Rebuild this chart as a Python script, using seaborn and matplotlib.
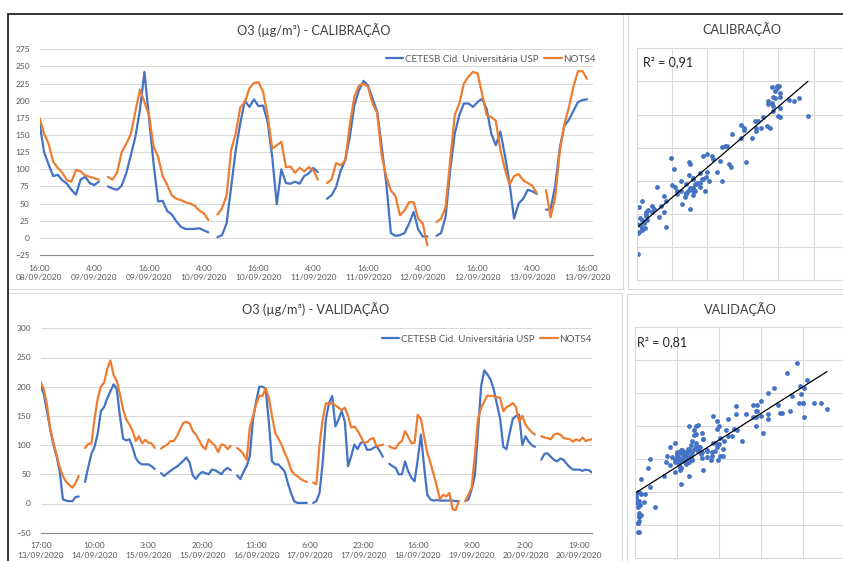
import numpy as np
import pandas as pd
import matplotlib
matplotlib.use("Agg")
import matplotlib.pyplot as plt
import seaborn as sns
from matplotlib.lines import Line2D
from matplotlib.patches import Rectangle

nan = np.nan

# O3 (ug/m3), hourly, calibration period: 08/09/2020 16:00 -> 13/09/2020 16:00
cal_cetesb = [168, 125, 107, 90, 92, 84, 79, 70, 63, 85, 89, 80, 77, 82, nan,
              75, 72, 70, 76, 94, 120, 147, 186, 242, 175, 108, 53, 54, 39, 34, 24, 16, 13, 13, 13, 14, 11, 8, nan,
              1, 4, 21, 74, 128, 167, 200, 191, 202, 192, 193, 169, 118, 49, 100, 80, 79, 82, 79, 90, 94, 102, 96, nan,
              57, 62, 74, 98, 113, 147, 193, 215, 229, 222, 203, 184, 133, 79, 7, 3, 4, 7, 21, 38, 12, 2, 2, nan,
              3, 7, 31, 99, 152, 179, 196, 196, 191, 198, 203, 188, 152, 135, 155, 120, 80, 28, 50, 57, 70, 68, 64, nan,
              41, 42, 75, 130, 163, 172, 185, 198, 201, 202]
cal_nots4 = [175, 152, 137, 111, 102, 95, 84, 82, 99, 97, 91, 89, 87, 85, nan,
             89, 85, 95, 125, 137, 151, 184, 216, 198, 179, 133, 118, 90, 77, 62, 57, 55, 52, 50, 47, 40, 36, 26, nan,
             34, 43, 62, 128, 152, 190, 198, 218, 226, 227, 213, 179, 130, 135, 140, 103, 104, 95, 102, 97, 103, 99, 85, nan,
             80, 85, 109, 106, 113, 164, 206, 222, 225, 220, 196, 182, 120, 89, 69, 61, 33, 40, 52, 52, 28, 21, -11, nan,
             23, 28, 45, 113, 179, 196, 225, 235, 242, 240, 210, 179, 176, 171, 128, 100, 78, 90, 93, 84, 80, 76, 65, nan,
             70, 30, 58, 125, 165, 190, 220, 243, 243, 232]
cal_labels = ["16:00\n08/09/2020", "4:00\n09/09/2020", "16:00\n09/09/2020", "4:00\n10/09/2020",
              "16:00\n10/09/2020", "4:00\n11/09/2020", "16:00\n11/09/2020", "4:00\n12/09/2020",
              "16:00\n12/09/2020", "4:00\n13/09/2020", "16:00\n13/09/2020"]

# validation period: 13/09/2020 17:00 -> 20/09/2020
val_cetesb = [201, 187, 158, 127, 101, 81, 55, 7, 5, 4, 4, 11, 12, nan,
              37, 62, 85, 97, 120, 158, 165, 180, 192, 204, 196, 150, 111, 108, 110, 96, 78, 70, 67, 67, 67, 64, 59, nan,
              52, 47, 52, 56, 60, 63, 68, 73, 79, 70, 48, 42, 50, 54, 52, 50, 58, 57, 54, 50, 57, 61, 57, nan,
              48, 42, 54, 64, 81, 144, 175, 200, 200, 197, 140, 72, 67, 67, 61, 55, 35, 18, 4, 1, 1, 1, 1, nan,
              1, 4, 18, 70, 144, 172, 184, 132, 144, 158, 140, 64, 81, 101, 93, 104, 105, 92, 92, 95, 98, 90, 80, nan,
              68, 64, 61, 50, 50, 72, 55, 44, 38, 75, 118, 64, 15, 7, 5, 6, 5, 5, 5, 5, 5, 4, 4, nan,
              4, 7, 24, 47, 121, 201, 228, 221, 212, 195, 170, 145, 97, 93, 120, 145, 150, 152, 100, 115, 106, 100, 97, nan,
              75, 85, 86, 80, 75, 72, 77, 75, 68, 62, 58, 58, 58, 56, 58, 57, 53]
val_nots4 = [208, 195, 168, 128, 105, 84, 62, 47, 37, 32, 27, 35, 47, nan,
             95, 102, 103, 145, 180, 200, 207, 230, 245, 220, 210, 187, 161, 144, 135, 124, 107, 115, 103, 109, 104, 103, 95, nan,
             94, 98, 101, 107, 107, 115, 127, 138, 140, 137, 124, 118, 108, 98, 93, 110, 104, 99, 88, 101, 100, 93, 99, nan,
             95, 91, 84, 75, 130, 150, 170, 185, 184, 198, 181, 150, 121, 111, 101, 87, 75, 58, 50, 47, 42, 39, 37, nan,
             36, 33, 100, 144, 172, 170, 172, 168, 164, 160, 164, 150, 130, 132, 125, 115, 104, 105, 110, 112, 98, 99, 101, nan,
             98, 95, 94, 103, 107, 124, 114, 103, 104, 152, 145, 115, 87, 70, 50, 30, 7, 15, 12, 18, -10, -11, 4, nan,
             4, 15, 27, 81, 144, 164, 175, 185, 184, 184, 182, 181, 158, 165, 168, 172, 165, 140, 150, 135, 128, 122, 118, nan,
             115, 113, 112, 110, 118, 120, 118, 112, 111, 110, 106, 110, 107, 113, 107, 109, 110]
val_labels = ["17:00\n13/09/2020", "10:00\n14/09/2020", "3:00\n15/09/2020", "20:00\n15/09/2020",
              "13:00\n16/09/2020", "6:00\n17/09/2020", "23:00\n17/09/2020", "16:00\n18/09/2020",
              "9:00\n19/09/2020", "2:00\n20/09/2020", "19:00\n20/09/2020"]

NOMES = ["CETESB Cid. Universitária USP", "NOTS4"]
AZUL, LARANJA = "#4472C4", "#ED7D31"
CINZA_TXT = "#595959"

sns.set_style("white")
plt.rcParams["font.family"] = ["Lato", "DejaVu Sans"]

W, H = 843, 561
fig = plt.figure(figsize=(W / 100, H / 100), dpi=100)


def caixa(x0, y0, x1, y1):
    return [x0 / W, 1 - y1 / H, (x1 - x0) / W, (y1 - y0) / H]


def serie_temporal(rect, cetesb, nots4, xmax, ylim, ystep, major, labels, minor, major_len, leg_xy):
    ax = fig.add_axes(rect)
    df = pd.DataFrame({"hora": np.arange(len(cetesb)), NOMES[0]: cetesb, NOMES[1]: nots4})
    longo = df.melt(id_vars="hora", var_name="serie", value_name="o3")
    # a new segment starts after every missing hour, so gaps stay open
    longo["trecho"] = longo.groupby("serie")["o3"].transform(lambda s: s.isna().cumsum())
    longo = longo.dropna(subset=["o3"])
    sns.lineplot(data=longo, x="hora", y="o3", hue="serie", units="trecho", estimator=None,
                 palette={NOMES[0]: AZUL, NOMES[1]: LARANJA}, linewidth=1.6, legend=False, ax=ax)
    ax.set_xlim(0, xmax)
    ax.set_ylim(*ylim)
    ax.set_yticks(np.arange(ylim[0], ylim[1] + 1, ystep))
    ax.yaxis.grid(True, color="#d9d9d9", lw=0.75)
    ax.set_axisbelow(True)
    ax.xaxis.remove_overlapping_locs = False
    ax.set_xticks(major)
    ax.set_xticklabels(labels, linespacing=1.35)
    ax.set_xticks(minor, minor=True)
    ax.tick_params(axis="x", which="minor", direction="inout", length=3.2, width=0.8, color="#8c8c8c")
    ax.tick_params(axis="x", which="major", direction="inout", length=major_len, width=0.8,
                   color="#8c8c8c", labelsize=6, labelcolor=CINZA_TXT, pad=7 - major_len / 2)
    ax.tick_params(axis="y", length=0, labelsize=6, labelcolor=CINZA_TXT, pad=7)
    for s in ["top", "right", "left"]:
        ax.spines[s].set_visible(False)
    ax.spines["bottom"].set_color("#8c8c8c")
    ax.spines["bottom"].set_linewidth(0.8)
    ax.set_xlabel("")
    ax.set_ylabel("")
    handles = [Line2D([0], [0], color=AZUL, lw=1.6), Line2D([0], [0], color=LARANJA, lw=1.6)]
    leg = ax.legend(handles, NOMES, ncol=2, loc="center right",
                    bbox_to_anchor=(leg_xy[0] / W, 1 - leg_xy[1] / H), bbox_transform=fig.transFigure,
                    frameon=False, fontsize=7.1, handlelength=1.8, handletextpad=0.15,
                    columnspacing=0.6, borderpad=0, borderaxespad=0)
    for t in leg.get_texts():
        t.set_color(CINZA_TXT)
    return ax


def dispersao(rect, cetesb, nots4, xmax):
    ax = fig.add_axes(rect)
    pares = pd.DataFrame({"cetesb": cetesb, "nots4": nots4}).dropna()
    sns.scatterplot(data=pares, x="cetesb", y="nots4", color=AZUL, s=12, linewidth=0, ax=ax)
    sns.regplot(data=pares, x="cetesb", y="nots4", scatter=False, ci=None, color="black",
                line_kws={"lw": 0.9}, ax=ax)
    ax.set_xlim(0, xmax)
    ax.set_ylim(-50, 300)
    ax.set_xticks(np.arange(0, xmax + 1, 50))
    ax.set_yticks(np.arange(-50, 301, 50))
    ax.tick_params(length=0, labelbottom=False, labelleft=False)
    ax.grid(True, color="#d9d9d9", lw=0.75)
    ax.set_axisbelow(True)
    ax.set_xlabel("")
    ax.set_ylabel("")
    for sp in ax.spines.values():
        sp.set_color("#d9d9d9")
        sp.set_linewidth(0.75)
    return ax


# time series panels
serie_temporal(caixa(39.5, 49.3, 593, 255), cal_cetesb, cal_nots4, 121.3, (-25, 275), 25,
               np.arange(0, 121, 12), cal_labels, np.arange(6, 120, 12), 3.2, (596, 59.3))
serie_temporal(caixa(40.7, 328.3, 592, 532.7), val_cetesb, val_nots4, 174, (-50, 300), 50,
               np.arange(0, 171, 17), val_labels, np.linspace(0, 170, 19), 0, (592, 339.3))

# scatter panels (cut by the right edge, like the screenshot)
dispersao(caixa(636.7, 48.3, 849, 280), cal_cetesb, cal_nots4, 300)
dispersao(caixa(635, 326.7, 845.5, 558.3), val_cetesb, val_nots4, 250)

# titles and labels
tit = dict(ha="center", va="center", fontsize=9.2, color="#404040")
fig.text(314 / W, 1 - 30 / H, "O3 (µg/m³) - CALIBRAÇÃO", **tit)
fig.text(315.6 / W, 1 - 309.3 / H, "O3 (µg/m³) - VALIDAÇÃO", **tit)
fig.text(741.7 / W, 1 - 29.3 / H, "CALIBRAÇÃO", **tit)
fig.text(740 / W, 1 - 309.3 / H, "VALIDAÇÃO", **tit)
fig.text(642.7 / W, 1 - 61.7 / H, "R² = 0,91", ha="left", va="center", fontsize=9, color="#262626")
fig.text(637.3 / W, 1 - 341.7 / H, "R² = 0,81", ha="left", va="center", fontsize=9, color="#262626")

# chart borders of the spreadsheet screenshot
for x0, y0, x1, y1 in [(8, 14, 622.7, 288.5), (628.3, 14, 860, 288.5),
                       (8, 293.3, 621.7, 575), (626.7, 293.8, 860, 575)]:
    fig.add_artist(Rectangle((x0 / W, 1 - y1 / H), (x1 - x0) / W, (y1 - y0) / H,
                             transform=fig.transFigure, fill=False, ec="#d9d9d9", lw=0.8))
fig.add_artist(Line2D([8 / W, 1], [1 - 14 / H, 1 - 14 / H], transform=fig.transFigure, color="#262626", lw=1.3))
fig.add_artist(Line2D([8 / W, 8 / W], [1 - 14 / H, 0], transform=fig.transFigure, color="#262626", lw=1.3))

fig.savefig("out.png", dpi=100)
